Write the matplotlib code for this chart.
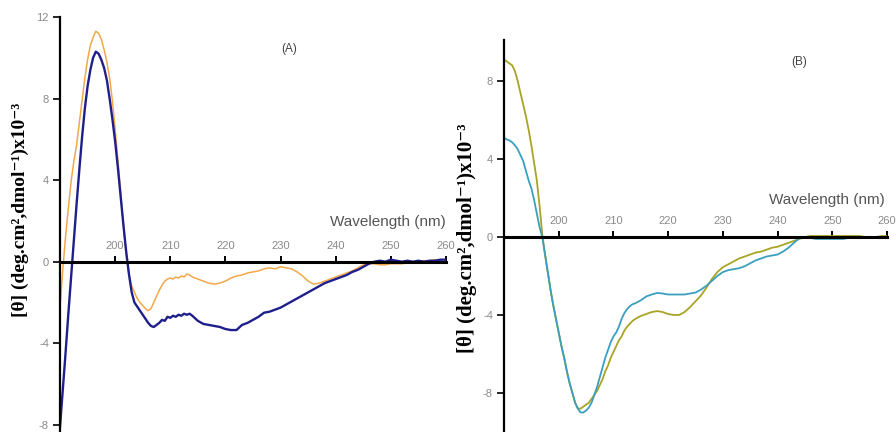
import numpy as np
import matplotlib
matplotlib.use("Agg")
from matplotlib import pyplot as plt

# wavelength grid (nm): 0.5 nm steps up to 213.5, then 1 nm steps
wl = np.concatenate([np.arange(190, 214, 0.5), np.arange(214, 261, 1)])

# panel A
navy_a = [-8.1, -6.3, -4.5, -2.6, -0.8, 1.0, 2.8, 4.5, 6.1, 7.5,
          8.6, 9.4, 10.0, 10.3, 10.2, 9.9, 9.5, 8.9, 8.0, 7.0,
          5.9, 4.6, 3.2, 1.8, 0.5, -0.6, -1.5, -2.0, -2.2, -2.4,
          -2.6, -2.8, -3.0, -3.15, -3.2, -3.1, -3.0, -2.85, -2.9, -2.7,
          -2.75, -2.65, -2.7, -2.6, -2.65, -2.55, -2.6, -2.55,
          -2.65, -2.9, -3.05, -3.1, -3.15, -3.2, -3.3, -3.35, -3.35, -3.1,
          -3.0, -2.85, -2.7, -2.5, -2.45, -2.35, -2.25, -2.1, -1.95, -1.8,
          -1.65, -1.5, -1.35, -1.2, -1.05, -0.95, -0.85, -0.75, -0.65, -0.5,
          -0.4, -0.25, -0.1, 0.0, 0.05, 0.0, 0.1, 0.05, 0.0, 0.05,
          0.0, 0.05, 0.0, 0.05, 0.05, 0.1, 0.1]
orange_a = [-2.3, -0.4, 1.2, 2.6, 3.9, 4.9, 5.7, 6.8, 7.9, 9.0,
            9.9, 10.6, 11.0, 11.3, 11.2, 10.9, 10.4, 9.8, 9.0, 7.9,
            6.5, 5.0, 3.4, 1.8, 0.3, -0.6, -1.2, -1.5, -1.8, -2.0,
            -2.15, -2.3, -2.4, -2.3, -2.0, -1.7, -1.4, -1.15, -0.95, -0.85,
            -0.8, -0.85, -0.75, -0.8, -0.7, -0.75, -0.6, -0.65,
            -0.75, -0.85, -0.95, -1.05, -1.1, -1.05, -0.95, -0.8, -0.7, -0.65,
            -0.55, -0.5, -0.45, -0.35, -0.3, -0.35, -0.25, -0.3, -0.35, -0.5,
            -0.7, -0.95, -1.1, -1.05, -0.95, -0.85, -0.75, -0.65, -0.55, -0.45,
            -0.3, -0.15, -0.1, -0.1, -0.15, -0.15, -0.1, -0.1, -0.1, -0.05,
            0.0, 0.0, 0.05, 0.05, 0.1, 0.1, 0.1]

# panel B
olive_b = [9.1, 9.0, 8.9, 8.8, 8.5, 8.0, 7.4, 6.8, 6.2, 5.5,
           4.7, 3.8, 2.9, 1.6, 0.1, -0.9, -1.8, -2.7, -3.5, -4.2,
           -4.9, -5.6, -6.2, -6.9, -7.5, -8.0, -8.5, -8.8, -8.8, -8.7,
           -8.6, -8.5, -8.3, -8.1, -7.9, -7.6, -7.3, -6.9, -6.6, -6.2,
           -5.9, -5.6, -5.3, -5.1, -4.8, -4.6, -4.45, -4.3,
           -4.2, -4.05, -3.95, -3.85, -3.8, -3.85, -3.95, -4.0, -4.0, -3.85,
           -3.6, -3.3, -3.0, -2.6, -2.15, -1.8, -1.55, -1.4, -1.25, -1.1,
           -1.0, -0.9, -0.8, -0.75, -0.65, -0.55, -0.5, -0.4, -0.3, -0.2,
           -0.1, 0.0, 0.05, 0.05, 0.05, 0.05, 0.05, 0.05, 0.05, 0.05,
           0.05, 0.05, 0.0, 0.0, 0.0, 0.05, 0.05]
teal_b = [5.1, 5.0, 4.95, 4.85, 4.7, 4.5, 4.2, 3.9, 3.4, 2.9,
          2.5, 1.9, 1.2, 0.5, 0.0, -0.9, -1.8, -2.7, -3.5, -4.2,
          -4.9, -5.6, -6.2, -6.9, -7.5, -8.0, -8.5, -8.8, -9.0, -9.0,
          -8.9, -8.75, -8.5, -8.1, -7.7, -7.2, -6.7, -6.2, -5.8, -5.4,
          -5.1, -4.9, -4.6, -4.2, -3.9, -3.7, -3.55, -3.45,
          -3.4, -3.25, -3.05, -2.95, -2.87, -2.9, -2.95, -2.95, -2.95, -2.95,
          -2.9, -2.85, -2.7, -2.5, -2.25, -2.0, -1.8, -1.7, -1.65, -1.6,
          -1.5, -1.35, -1.2, -1.1, -1.0, -0.95, -0.9, -0.75, -0.55, -0.3,
          -0.05, 0.0, -0.05, -0.1, -0.1, -0.1, -0.1, -0.1, -0.1, -0.05,
          0.0, 0.0, 0.0, 0.0, 0.0, 0.0, 0.0]

xticks = [200, 210, 220, 230, 240, 250, 260]
yticks_a = [-8, -4, 0, 4, 8, 12]
yticks_b = [-8, -4, 0, 4, 8]

ylabel = "[θ] (deg.cm²,dmol⁻¹)x10⁻³"
serif = ['Liberation Serif', 'DejaVu Serif']

plt.rcParams['font.family'] = 'Liberation Sans'
plt.rcParams['axes.unicode_minus'] = False

fig = plt.figure(figsize=(8.96, 4.32), dpi=100)
W, H = 896, 432


def setup(ax, yticks):
    ax.set_xlim(190, 260)
    for s in ['right', 'bottom']:
        ax.spines[s].set_visible(False)
    # zero line carries the x ticks, labels sit above it
    ax.spines['top'].set_position(('data', 0))
    ax.spines['top'].set_linewidth(2.2)
    ax.spines['left'].set_linewidth(1.6)
    ax.xaxis.set_ticks_position('top')
    ax.set_xticks(xticks)
    ax.set_yticks(yticks)
    ax.tick_params(axis='x', direction='out', length=4, width=1.4,
                   labelsize=8, labelcolor='#8a8a8a', pad=4)
    ax.tick_params(axis='y', direction='out', length=5, width=1.2,
                   labelsize=8, labelcolor='#8a8a8a', pad=3)
    ax.patch.set_alpha(0)


# (A)
ax1 = fig.add_axes([60 / W, 1 / H, 386 / W, 414 / H])
setup(ax1, yticks_a)
ax1.set_ylim(-8.3, 12)
ax1.plot(wl, orange_a, color='#f2a84a', lw=1.1)
ax1.plot(wl, navy_a, color='#1f1f8c', lw=1.7)
ax1.text(260, 1.95, "Wavelength (nm)", ha='right', va='center',
         fontsize=11, color='#555555')
ax1.text(0.595, 0.915, "(A)", transform=ax1.transAxes, ha='center',
         fontsize=8.5, color='#444444')
fig.text(20 / W, 1 - 210 / H, ylabel, rotation=90, ha='center', va='center',
         fontsize=14, fontweight='bold', family=serif)

# (B)
ax2 = fig.add_axes([504 / W, 0, 383 / W, 392 / H])
setup(ax2, yticks_b)
ax2.set_ylim(-10, 10.1)
ax2.plot(wl, olive_b, color='#a8a424', lw=1.3)
ax2.plot(wl, teal_b, color='#3a9fbf', lw=1.3)
ax2.text(259.6, 1.9, "Wavelength (nm)", ha='right', va='center',
         fontsize=11, color='#555555')
ax2.text(0.772, 0.935, "(B)", transform=ax2.transAxes, ha='center',
         fontsize=8.5, color='#444444')
fig.text(467 / W, 1 - 238 / H, ylabel, rotation=90, ha='center', va='center',
         fontsize=15, fontweight='bold', family=serif)

fig.savefig("out.png", dpi=100)
